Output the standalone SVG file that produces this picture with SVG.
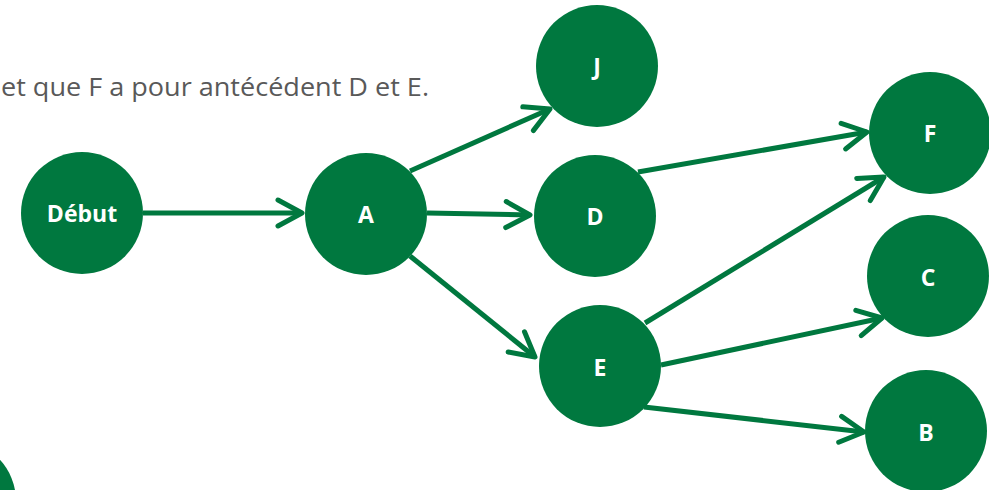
<svg xmlns="http://www.w3.org/2000/svg" width="989" height="490" viewBox="0 0 989 490">
<style>
.node{fill:#00783F}
.lbl{fill:#FFFFFF;font-family:"Open Sans","Liberation Sans",sans-serif;font-weight:bold;font-size:23px;text-anchor:middle}
.edge{stroke:#00783F;stroke-width:5;fill:none;marker-end:url(#arr)}
.note{fill:#595959;font-family:"Open Sans","Liberation Sans",sans-serif;font-size:26px}
</style>
<defs>
<marker id="arr" viewBox="-30 -16 34 32" markerWidth="34" markerHeight="32" refX="0" refY="0" markerUnits="userSpaceOnUse" orient="auto">
<path d="M-24,-13 L0,0 L-24,13" fill="none" stroke="#00783F" stroke-width="5" stroke-linecap="round" stroke-linejoin="round"/>
</marker>
</defs>
<text class="note" x="1" y="96" textLength="428" lengthAdjust="spacingAndGlyphs">et que F a pour antécédent D et E.</text>
<g id="connectors">
<line class="edge" x1="143" y1="213" x2="302" y2="213"/>
<line class="edge" x1="410" y1="171" x2="550" y2="109"/>
<line class="edge" x1="427" y1="213" x2="530" y2="215"/>
<line class="edge" x1="410" y1="256" x2="535" y2="357"/>
<line class="edge" x1="638" y1="172" x2="867" y2="132"/>
<line class="edge" x1="645" y1="323" x2="884" y2="177"/>
<line class="edge" x1="661" y1="365" x2="882" y2="318"/>
<line class="edge" x1="644" y1="407" x2="864" y2="432"/>
</g>
<g id="node-debut"><circle class="node" cx="82" cy="213" r="61"/><text class="lbl" x="82" y="222">Début</text></g>
<g id="node-A"><circle class="node" cx="366" cy="214" r="61"/><text class="lbl" x="366" y="223">A</text></g>
<g id="node-J"><circle class="node" cx="597" cy="66" r="61"/><text class="lbl" x="597" y="75">J</text></g>
<g id="node-D"><circle class="node" cx="595" cy="216" r="61"/><text class="lbl" x="595" y="225">D</text></g>
<g id="node-E"><circle class="node" cx="600" cy="366" r="61"/><text class="lbl" x="600" y="376">E</text></g>
<g id="node-F"><circle class="node" cx="930" cy="133" r="61"/><text class="lbl" x="930" y="142">F</text></g>
<g id="node-C"><circle class="node" cx="928" cy="276" r="61"/><text class="lbl" x="928" y="286">C</text></g>
<g id="node-B"><circle class="node" cx="926" cy="431" r="61"/><text class="lbl" x="926" y="441">B</text></g>
<g id="node-partial"><circle class="node" cx="-45" cy="501" r="61"/></g>
</svg>
